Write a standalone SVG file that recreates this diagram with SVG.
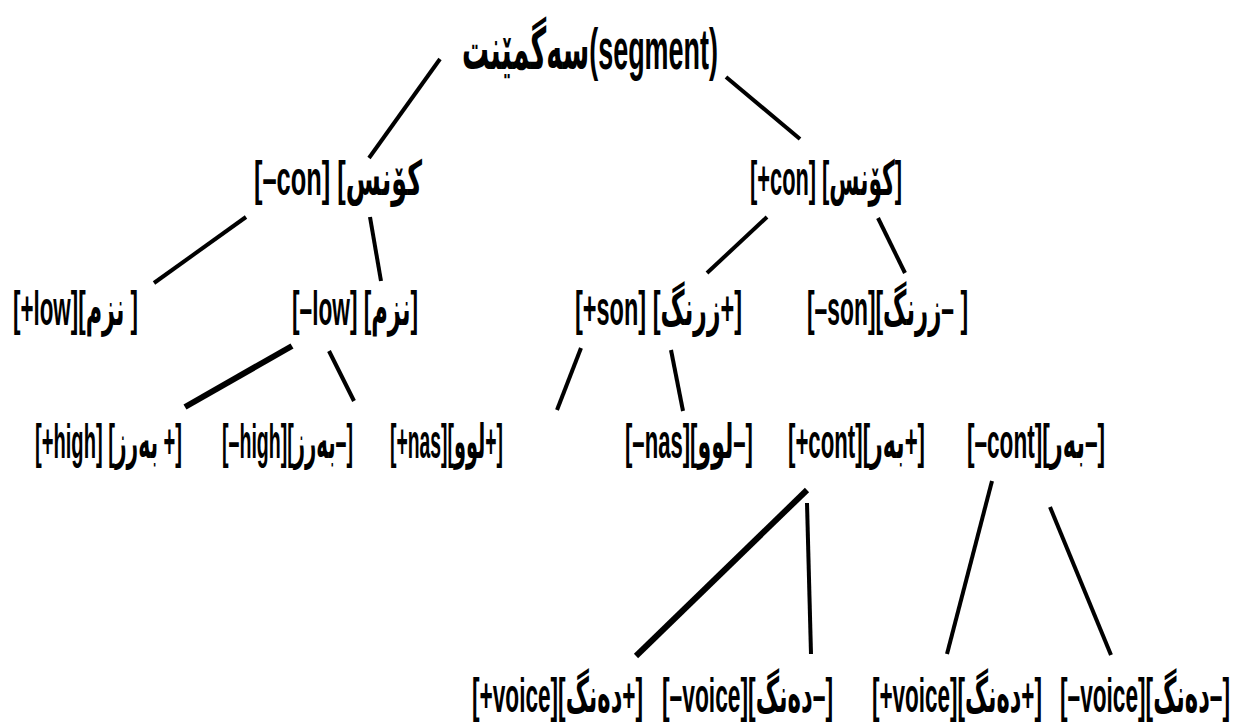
<svg xmlns="http://www.w3.org/2000/svg" width="1238" height="726" viewBox="0 0 1238 726">
<style>
  text { font-family: "Liberation Sans", "DejaVu Sans", sans-serif; fill: #000; font-weight: bold; }
  .lbl { font-size: 48px; }
  .top { font-size: 58px; }
  .edge { stroke: #000; stroke-width: 4; stroke-linecap: butt; fill: none; }
  .thick { stroke-width: 6; }
</style>
<rect width="1238" height="726" fill="#fff"/>
<g id="connectors">
  <line class="edge" x1="440" y1="59" x2="369" y2="158"/>
  <line class="edge" x1="726" y1="77" x2="800" y2="139"/>
  <line class="edge" x1="246" y1="217" x2="154" y2="283"/>
  <line class="edge" x1="370" y1="217" x2="381" y2="281"/>
  <line class="edge" x1="767" y1="217" x2="707" y2="273"/>
  <line class="edge" x1="878" y1="218" x2="905" y2="273"/>
  <line class="edge thick" x1="292" y1="346" x2="185" y2="407"/>
  <line class="edge" x1="329" y1="351" x2="354" y2="401"/>
  <line class="edge" x1="581" y1="348" x2="557" y2="410"/>
  <line class="edge" x1="671" y1="350" x2="683" y2="411"/>
  <line class="edge thick" x1="807" y1="490" x2="636" y2="656"/>
  <line class="edge" x1="807" y1="503" x2="811" y2="654"/>
  <line class="edge" x1="992" y1="481" x2="947" y2="654"/>
  <line class="edge" x1="1050" y1="507" x2="1111" y2="655"/>
</g>
<g id="segment"><text class="top" transform="translate(462,69) scale(0.52,1)" textLength="492.3" lengthAdjust="spacingAndGlyphs">سەگمێنت(segment)</text></g>
<g id="minus-con"><text class="lbl" transform="translate(254,195) scale(0.55,1)" textLength="305.5" lengthAdjust="spacingAndGlyphs">[–con]  [کۆنس</text></g>
<g id="plus-con"><text class="lbl" transform="translate(750,195) scale(0.55,1)" textLength="276.4" lengthAdjust="spacingAndGlyphs">[+con] [کۆنس]</text></g>
<g id="plus-low"><text class="lbl" transform="translate(13,325) scale(0.55,1)" textLength="227.3" lengthAdjust="spacingAndGlyphs">[+low][نزم ]</text></g>
<g id="minus-low"><text class="lbl" transform="translate(292,325) scale(0.55,1)" textLength="229.1" lengthAdjust="spacingAndGlyphs">[–low] [نزم]</text></g>
<g id="plus-son"><text class="lbl" transform="translate(575,325) scale(0.55,1)" textLength="303.6" lengthAdjust="spacingAndGlyphs">[+son] [زرنگ+]</text></g>
<g id="minus-son"><text class="lbl" transform="translate(807,325) scale(0.55,1)" textLength="292.7" lengthAdjust="spacingAndGlyphs">[–son][زرنگ– ]</text></g>
<g id="plus-high"><text class="lbl" transform="translate(35,458) scale(0.55,1)" textLength="267.3" lengthAdjust="spacingAndGlyphs">[+high] [بەرز +]</text></g>
<g id="minus-high"><text class="lbl" transform="translate(222,458) scale(0.55,1)" textLength="238.2" lengthAdjust="spacingAndGlyphs">[–high][بەرز–]</text></g>
<g id="plus-nas"><text class="lbl" transform="translate(390,458) scale(0.55,1)" textLength="205.5" lengthAdjust="spacingAndGlyphs">[+nas][لوو+]</text></g>
<g id="minus-nas"><text class="lbl" transform="translate(625,458) scale(0.55,1)" textLength="232.7" lengthAdjust="spacingAndGlyphs">[–nas][لوو–]</text></g>
<g id="plus-cont"><text class="lbl" transform="translate(788,458) scale(0.55,1)" textLength="249.1" lengthAdjust="spacingAndGlyphs">[+cont][بەر+]</text></g>
<g id="minus-cont"><text class="lbl" transform="translate(967,458) scale(0.55,1)" textLength="250.9" lengthAdjust="spacingAndGlyphs">[–cont][بەر–]</text></g>
<g id="plus-voice-1"><text class="lbl" transform="translate(472,712) scale(0.55,1)" textLength="310.9" lengthAdjust="spacingAndGlyphs">[+voice][دەنگ+]</text></g>
<g id="minus-voice-1"><text class="lbl" transform="translate(662,712) scale(0.55,1)" textLength="310.9" lengthAdjust="spacingAndGlyphs">[–voice][دەنگ–]</text></g>
<g id="plus-voice-2"><text class="lbl" transform="translate(872,712) scale(0.55,1)" textLength="309.1" lengthAdjust="spacingAndGlyphs">[+voice][دەنگ+]</text></g>
<g id="minus-voice-2"><text class="lbl" transform="translate(1060,712) scale(0.55,1)" textLength="309.1" lengthAdjust="spacingAndGlyphs">[–voice][دەنگ–]</text></g>
</svg>
